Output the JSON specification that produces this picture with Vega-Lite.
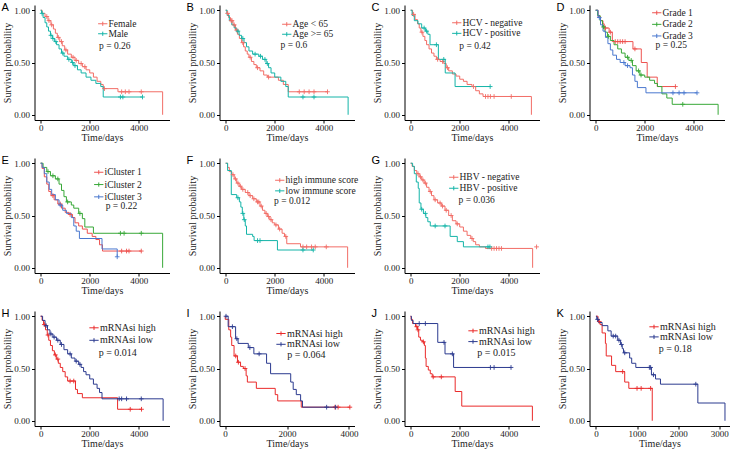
{
"$schema": "https://vega.github.io/schema/vega-lite/v6.json",
"background": "white",
"padding": {"left": 1.5, "top": 1.0, "right": 0, "bottom": 0},
"bounds": "flush",
"columns": 4,
"spacing": {"row": 38, "column": 50},
"resolve": {"scale": {"x": "independent", "y": "independent", "color": "independent"}, "legend": {"color": "independent"}},
"config": {
  "view": {"stroke": null},
  "axis": {"grid": false, "domainColor": "#000", "domainWidth": 1, "tickColor": "#000", "tickSize": 3, "tickWidth": 1, "labelFont": "Liberation Serif", "labelFontSize": 9, "labelColor": "#222", "labelPadding": 1, "titleFont": "Liberation Serif", "titleFontSize": 10, "titleFontWeight": "normal", "titleColor": "#222", "titlePadding": 1, "labelFlush": false},
  "axisX": {"labelPadding": 0, "titlePadding": 0.5},
  "axisY": {"labelPadding": 2},
  "title": {"anchor": "start", "frame": "group", "font": "Liberation Sans", "fontSize": 11, "fontWeight": "normal", "color": "#000", "dx": -33, "dy": 3.5, "offset": -4, "baseline": "alphabetic"},
  "legend": {"padding": 0, "symbolType": "M-1.55,0H1.55M0,-0.7V0.7", "symbolSize": 36, "symbolStrokeWidth": 1, "labelFont": "Liberation Serif", "labelFontSize": 9.5, "labelColor": "#222", "labelOffset": 1, "rowPadding": 0}
},
"datasets": {
"A": [
{"g":"Female","t":0,"s":1},{"g":"Female","t":60,"s":0.97},{"g":"Female","t":180,"s":0.94},{"g":"Female","t":250,"s":0.94,"c":1},{"g":"Female","t":300,"s":0.9},{"g":"Female","t":340,"s":0.9,"c":1},{"g":"Female","t":420,"s":0.86},{"g":"Female","t":450,"s":0.86,"c":1},{"g":"Female","t":520,"s":0.82},{"g":"Female","t":600,"s":0.78},{"g":"Female","t":680,"s":0.74},{"g":"Female","t":720,"s":0.74,"c":1},{"g":"Female","t":780,"s":0.7},{"g":"Female","t":850,"s":0.7,"c":1},{"g":"Female","t":880,"s":0.66},{"g":"Female","t":980,"s":0.62},{"g":"Female","t":1030,"s":0.62,"c":1},{"g":"Female","t":1100,"s":0.58},{"g":"Female","t":1250,"s":0.55},{"g":"Female","t":1320,"s":0.55,"c":1},{"g":"Female","t":1400,"s":0.52},{"g":"Female","t":1450,"s":0.52,"c":1},{"g":"Female","t":1550,"s":0.49},{"g":"Female","t":1650,"s":0.49,"c":1},{"g":"Female","t":1700,"s":0.46},{"g":"Female","t":1800,"s":0.46,"c":1},{"g":"Female","t":1850,"s":0.43},{"g":"Female","t":2000,"s":0.4},{"g":"Female","t":2150,"s":0.36},{"g":"Female","t":2300,"s":0.32},{"g":"Female","t":2450,"s":0.29},{"g":"Female","t":2550,"s":0.25},{"g":"Female","t":2600,"s":0.25,"c":1},{"g":"Female","t":3150,"s":0.22},{"g":"Female","t":3300,"s":0.22,"c":1},{"g":"Female","t":3450,"s":0.22,"c":1},{"g":"Female","t":3600,"s":0.22,"c":1},{"g":"Female","t":4100,"s":0.22,"c":1},{"g":"Female","t":4970,"s":0},
{"g":"Male","t":0,"s":1},{"g":"Male","t":40,"s":0.97},{"g":"Male","t":60,"s":0.97,"c":1},{"g":"Male","t":100,"s":0.93},{"g":"Male","t":180,"s":0.88},{"g":"Male","t":250,"s":0.84},{"g":"Male","t":320,"s":0.8},{"g":"Male","t":400,"s":0.76},{"g":"Male","t":420,"s":0.76,"c":1},{"g":"Male","t":480,"s":0.73},{"g":"Male","t":500,"s":0.73,"c":1},{"g":"Male","t":560,"s":0.7},{"g":"Male","t":620,"s":0.7,"c":1},{"g":"Male","t":650,"s":0.67},{"g":"Male","t":750,"s":0.63},{"g":"Male","t":850,"s":0.59},{"g":"Male","t":900,"s":0.59,"c":1},{"g":"Male","t":950,"s":0.56},{"g":"Male","t":1100,"s":0.53},{"g":"Male","t":1150,"s":0.53,"c":1},{"g":"Male","t":1250,"s":0.5},{"g":"Male","t":1300,"s":0.5,"c":1},{"g":"Male","t":1350,"s":0.47},{"g":"Male","t":1400,"s":0.47,"c":1},{"g":"Male","t":1500,"s":0.43},{"g":"Male","t":1650,"s":0.4},{"g":"Male","t":1850,"s":0.36},{"g":"Male","t":2050,"s":0.33},{"g":"Male","t":2250,"s":0.3},{"g":"Male","t":2450,"s":0.27},{"g":"Male","t":2550,"s":0.17},{"g":"Male","t":3250,"s":0.17,"c":1},{"g":"Male","t":3350,"s":0.17,"c":1},{"g":"Male","t":4150,"s":0.17,"c":1}
],
"B": [
{"g":"Age < 65","t":0,"s":1},{"g":"Age < 65","t":50,"s":0.97},{"g":"Age < 65","t":80,"s":0.97,"c":1},{"g":"Age < 65","t":120,"s":0.93},{"g":"Age < 65","t":200,"s":0.9},{"g":"Age < 65","t":230,"s":0.9,"c":1},{"g":"Age < 65","t":260,"s":0.9,"c":1},{"g":"Age < 65","t":300,"s":0.86},{"g":"Age < 65","t":350,"s":0.86,"c":1},{"g":"Age < 65","t":400,"s":0.81},{"g":"Age < 65","t":450,"s":0.81,"c":1},{"g":"Age < 65","t":480,"s":0.77},{"g":"Age < 65","t":560,"s":0.73},{"g":"Age < 65","t":650,"s":0.69},{"g":"Age < 65","t":700,"s":0.69,"c":1},{"g":"Age < 65","t":730,"s":0.65},{"g":"Age < 65","t":800,"s":0.61},{"g":"Age < 65","t":880,"s":0.58},{"g":"Age < 65","t":950,"s":0.55},{"g":"Age < 65","t":1000,"s":0.55,"c":1},{"g":"Age < 65","t":1050,"s":0.51},{"g":"Age < 65","t":1150,"s":0.48},{"g":"Age < 65","t":1250,"s":0.45},{"g":"Age < 65","t":1300,"s":0.45,"c":1},{"g":"Age < 65","t":1400,"s":0.42},{"g":"Age < 65","t":1550,"s":0.38},{"g":"Age < 65","t":1700,"s":0.36},{"g":"Age < 65","t":1750,"s":0.36,"c":1},{"g":"Age < 65","t":2150,"s":0.33},{"g":"Age < 65","t":2350,"s":0.29},{"g":"Age < 65","t":2550,"s":0.22},{"g":"Age < 65","t":3000,"s":0.22,"c":1},{"g":"Age < 65","t":3200,"s":0.22,"c":1},{"g":"Age < 65","t":3400,"s":0.22,"c":1},{"g":"Age < 65","t":3600,"s":0.22,"c":1},{"g":"Age < 65","t":4150,"s":0.22,"c":1},
{"g":"Age >= 65","t":0,"s":1},{"g":"Age >= 65","t":60,"s":0.95},{"g":"Age >= 65","t":150,"s":0.9},{"g":"Age >= 65","t":250,"s":0.86},{"g":"Age >= 65","t":350,"s":0.83},{"g":"Age >= 65","t":450,"s":0.8},{"g":"Age >= 65","t":500,"s":0.8,"c":1},{"g":"Age >= 65","t":550,"s":0.76},{"g":"Age >= 65","t":650,"s":0.73},{"g":"Age >= 65","t":700,"s":0.73,"c":1},{"g":"Age >= 65","t":750,"s":0.69},{"g":"Age >= 65","t":850,"s":0.65},{"g":"Age >= 65","t":950,"s":0.61},{"g":"Age >= 65","t":1100,"s":0.58},{"g":"Age >= 65","t":1200,"s":0.58,"c":1},{"g":"Age >= 65","t":1350,"s":0.56},{"g":"Age >= 65","t":1420,"s":0.56,"c":1},{"g":"Age >= 65","t":1500,"s":0.53},{"g":"Age >= 65","t":1600,"s":0.53,"c":1},{"g":"Age >= 65","t":1650,"s":0.49},{"g":"Age >= 65","t":1700,"s":0.49,"c":1},{"g":"Age >= 65","t":1750,"s":0.45},{"g":"Age >= 65","t":1850,"s":0.4},{"g":"Age >= 65","t":2000,"s":0.36},{"g":"Age >= 65","t":2250,"s":0.32},{"g":"Age >= 65","t":2450,"s":0.27},{"g":"Age >= 65","t":2550,"s":0.17},{"g":"Age >= 65","t":3150,"s":0.17,"c":1},{"g":"Age >= 65","t":3600,"s":0.17,"c":1},{"g":"Age >= 65","t":4990,"s":0}
],
"C": [
{"g":"HCV - negative","t":0,"s":1},{"g":"HCV - negative","t":80,"s":0.96},{"g":"HCV - negative","t":120,"s":0.96,"c":1},{"g":"HCV - negative","t":180,"s":0.91},{"g":"HCV - negative","t":280,"s":0.87},{"g":"HCV - negative","t":350,"s":0.83},{"g":"HCV - negative","t":420,"s":0.79},{"g":"HCV - negative","t":460,"s":0.79,"c":1},{"g":"HCV - negative","t":500,"s":0.75},{"g":"HCV - negative","t":580,"s":0.71},{"g":"HCV - negative","t":650,"s":0.67},{"g":"HCV - negative","t":750,"s":0.63},{"g":"HCV - negative","t":850,"s":0.59},{"g":"HCV - negative","t":950,"s":0.56},{"g":"HCV - negative","t":1050,"s":0.53},{"g":"HCV - negative","t":1100,"s":0.53,"c":1},{"g":"HCV - negative","t":1200,"s":0.51},{"g":"HCV - negative","t":1300,"s":0.51,"c":1},{"g":"HCV - negative","t":1350,"s":0.49},{"g":"HCV - negative","t":1450,"s":0.45},{"g":"HCV - negative","t":1500,"s":0.45,"c":1},{"g":"HCV - negative","t":1550,"s":0.42},{"g":"HCV - negative","t":1700,"s":0.39},{"g":"HCV - negative","t":1850,"s":0.37},{"g":"HCV - negative","t":2000,"s":0.34},{"g":"HCV - negative","t":2150,"s":0.32},{"g":"HCV - negative","t":2300,"s":0.29},{"g":"HCV - negative","t":2500,"s":0.27},{"g":"HCV - negative","t":2560,"s":0.27,"c":1},{"g":"HCV - negative","t":2650,"s":0.23},{"g":"HCV - negative","t":2800,"s":0.2},{"g":"HCV - negative","t":2950,"s":0.175},{"g":"HCV - negative","t":3050,"s":0.175,"c":1},{"g":"HCV - negative","t":3150,"s":0.175,"c":1},{"g":"HCV - negative","t":3250,"s":0.175,"c":1},{"g":"HCV - negative","t":3400,"s":0.175,"c":1},{"g":"HCV - negative","t":4100,"s":0.175,"c":1},{"g":"HCV - negative","t":4920,"s":0},
{"g":"HCV - positive","t":0,"s":1},{"g":"HCV - positive","t":60,"s":0.95},{"g":"HCV - positive","t":150,"s":0.9},{"g":"HCV - positive","t":300,"s":0.87},{"g":"HCV - positive","t":450,"s":0.83},{"g":"HCV - positive","t":550,"s":0.83,"c":1},{"g":"HCV - positive","t":600,"s":0.8},{"g":"HCV - positive","t":650,"s":0.8,"c":1},{"g":"HCV - positive","t":700,"s":0.77},{"g":"HCV - positive","t":790,"s":0.67},{"g":"HCV - positive","t":1050,"s":0.67,"c":1},{"g":"HCV - positive","t":1130,"s":0.53},{"g":"HCV - positive","t":1350,"s":0.53,"c":1},{"g":"HCV - positive","t":1410,"s":0.4},{"g":"HCV - positive","t":1810,"s":0.27},{"g":"HCV - positive","t":3240,"s":0.27,"c":1}
],
"D": [
{"g":"Grade 1","t":0,"s":1},{"g":"Grade 1","t":100,"s":0.94},{"g":"Grade 1","t":200,"s":0.9},{"g":"Grade 1","t":300,"s":0.87},{"g":"Grade 1","t":350,"s":0.83},{"g":"Grade 1","t":400,"s":0.83,"c":1},{"g":"Grade 1","t":550,"s":0.79},{"g":"Grade 1","t":600,"s":0.79,"c":1},{"g":"Grade 1","t":680,"s":0.7},{"g":"Grade 1","t":800,"s":0.7,"c":1},{"g":"Grade 1","t":900,"s":0.7,"c":1},{"g":"Grade 1","t":1000,"s":0.7,"c":1},{"g":"Grade 1","t":1100,"s":0.7,"c":1},{"g":"Grade 1","t":1200,"s":0.7,"c":1},{"g":"Grade 1","t":1520,"s":0.63},{"g":"Grade 1","t":1600,"s":0.63,"c":1},{"g":"Grade 1","t":1860,"s":0.5},{"g":"Grade 1","t":2100,"s":0.36},{"g":"Grade 1","t":2510,"s":0.27},{"g":"Grade 1","t":3250,"s":0.27,"c":1},
{"g":"Grade 2","t":0,"s":1},{"g":"Grade 2","t":80,"s":0.95},{"g":"Grade 2","t":180,"s":0.9},{"g":"Grade 2","t":280,"s":0.84},{"g":"Grade 2","t":320,"s":0.84,"c":1},{"g":"Grade 2","t":380,"s":0.79},{"g":"Grade 2","t":480,"s":0.75},{"g":"Grade 2","t":520,"s":0.75,"c":1},{"g":"Grade 2","t":600,"s":0.71},{"g":"Grade 2","t":750,"s":0.67},{"g":"Grade 2","t":900,"s":0.63},{"g":"Grade 2","t":1050,"s":0.59},{"g":"Grade 2","t":1200,"s":0.55},{"g":"Grade 2","t":1300,"s":0.55,"c":1},{"g":"Grade 2","t":1350,"s":0.52},{"g":"Grade 2","t":1450,"s":0.52,"c":1},{"g":"Grade 2","t":1500,"s":0.47},{"g":"Grade 2","t":1650,"s":0.42},{"g":"Grade 2","t":1750,"s":0.42,"c":1},{"g":"Grade 2","t":1800,"s":0.38},{"g":"Grade 2","t":1850,"s":0.38,"c":1},{"g":"Grade 2","t":2000,"s":0.36},{"g":"Grade 2","t":2200,"s":0.33},{"g":"Grade 2","t":2400,"s":0.3},{"g":"Grade 2","t":2520,"s":0.27},{"g":"Grade 2","t":2700,"s":0.2},{"g":"Grade 2","t":2900,"s":0.16},{"g":"Grade 2","t":3120,"s":0.1},{"g":"Grade 2","t":3550,"s":0.1,"c":1},{"g":"Grade 2","t":4990,"s":0},
{"g":"Grade 3","t":0,"s":1},{"g":"Grade 3","t":100,"s":0.93},{"g":"Grade 3","t":150,"s":0.93,"c":1},{"g":"Grade 3","t":200,"s":0.86},{"g":"Grade 3","t":300,"s":0.8},{"g":"Grade 3","t":400,"s":0.74},{"g":"Grade 3","t":500,"s":0.68},{"g":"Grade 3","t":600,"s":0.62},{"g":"Grade 3","t":700,"s":0.57},{"g":"Grade 3","t":850,"s":0.53},{"g":"Grade 3","t":1000,"s":0.5},{"g":"Grade 3","t":1150,"s":0.5,"c":1},{"g":"Grade 3","t":1200,"s":0.47},{"g":"Grade 3","t":1300,"s":0.47,"c":1},{"g":"Grade 3","t":1400,"s":0.45},{"g":"Grade 3","t":1500,"s":0.38},{"g":"Grade 3","t":1600,"s":0.32},{"g":"Grade 3","t":1700,"s":0.26},{"g":"Grade 3","t":2050,"s":0.21},{"g":"Grade 3","t":3150,"s":0.21,"c":1},{"g":"Grade 3","t":3400,"s":0.21,"c":1},{"g":"Grade 3","t":3600,"s":0.21,"c":1},{"g":"Grade 3","t":4130,"s":0.21,"c":1}
],
"E": [
{"g":"iCluster 1","t":0,"s":1},{"g":"iCluster 1","t":60,"s":0.95},{"g":"iCluster 1","t":150,"s":0.87},{"g":"iCluster 1","t":250,"s":0.8},{"g":"iCluster 1","t":330,"s":0.73},{"g":"iCluster 1","t":420,"s":0.69},{"g":"iCluster 1","t":500,"s":0.69,"c":1},{"g":"iCluster 1","t":550,"s":0.65},{"g":"iCluster 1","t":700,"s":0.61},{"g":"iCluster 1","t":800,"s":0.61,"c":1},{"g":"iCluster 1","t":850,"s":0.57},{"g":"iCluster 1","t":1000,"s":0.53},{"g":"iCluster 1","t":1150,"s":0.51},{"g":"iCluster 1","t":1200,"s":0.51,"c":1},{"g":"iCluster 1","t":1300,"s":0.48},{"g":"iCluster 1","t":1400,"s":0.43},{"g":"iCluster 1","t":1550,"s":0.4},{"g":"iCluster 1","t":1700,"s":0.37},{"g":"iCluster 1","t":1900,"s":0.33},{"g":"iCluster 1","t":2100,"s":0.3},{"g":"iCluster 1","t":2250,"s":0.27},{"g":"iCluster 1","t":2400,"s":0.22},{"g":"iCluster 1","t":2520,"s":0.16},{"g":"iCluster 1","t":3300,"s":0.16,"c":1},{"g":"iCluster 1","t":3500,"s":0.16,"c":1},{"g":"iCluster 1","t":3600,"s":0.16,"c":1},{"g":"iCluster 1","t":4100,"s":0.16,"c":1},
{"g":"iCluster 2","t":0,"s":1},{"g":"iCluster 2","t":100,"s":0.96},{"g":"iCluster 2","t":250,"s":0.92},{"g":"iCluster 2","t":300,"s":0.92,"c":1},{"g":"iCluster 2","t":400,"s":0.88},{"g":"iCluster 2","t":500,"s":0.88,"c":1},{"g":"iCluster 2","t":600,"s":0.85},{"g":"iCluster 2","t":700,"s":0.85,"c":1},{"g":"iCluster 2","t":750,"s":0.8},{"g":"iCluster 2","t":850,"s":0.74},{"g":"iCluster 2","t":950,"s":0.68},{"g":"iCluster 2","t":1050,"s":0.63},{"g":"iCluster 2","t":1100,"s":0.63,"c":1},{"g":"iCluster 2","t":1250,"s":0.6},{"g":"iCluster 2","t":1350,"s":0.57},{"g":"iCluster 2","t":1550,"s":0.52},{"g":"iCluster 2","t":1600,"s":0.52,"c":1},{"g":"iCluster 2","t":1700,"s":0.47},{"g":"iCluster 2","t":1800,"s":0.39},{"g":"iCluster 2","t":2150,"s":0.33},{"g":"iCluster 2","t":3250,"s":0.33,"c":1},{"g":"iCluster 2","t":3400,"s":0.33,"c":1},{"g":"iCluster 2","t":4100,"s":0.33,"c":1},{"g":"iCluster 2","t":4970,"s":0},
{"g":"iCluster 3","t":0,"s":1},{"g":"iCluster 3","t":60,"s":0.96},{"g":"iCluster 3","t":150,"s":0.9},{"g":"iCluster 3","t":250,"s":0.82},{"g":"iCluster 3","t":350,"s":0.75},{"g":"iCluster 3","t":450,"s":0.7},{"g":"iCluster 3","t":600,"s":0.65},{"g":"iCluster 3","t":750,"s":0.6},{"g":"iCluster 3","t":800,"s":0.6,"c":1},{"g":"iCluster 3","t":900,"s":0.55},{"g":"iCluster 3","t":1050,"s":0.52},{"g":"iCluster 3","t":1250,"s":0.48},{"g":"iCluster 3","t":1350,"s":0.4},{"g":"iCluster 3","t":1450,"s":0.35},{"g":"iCluster 3","t":1580,"s":0.28},{"g":"iCluster 3","t":2500,"s":0.18},{"g":"iCluster 3","t":3120,"s":0.105,"c":1}
],
"F": [
{"g":"high immune score","t":0,"s":1},{"g":"high immune score","t":80,"s":0.96},{"g":"high immune score","t":150,"s":0.92},{"g":"high immune score","t":250,"s":0.89},{"g":"high immune score","t":300,"s":0.89,"c":1},{"g":"high immune score","t":350,"s":0.85},{"g":"high immune score","t":400,"s":0.85,"c":1},{"g":"high immune score","t":450,"s":0.81},{"g":"high immune score","t":500,"s":0.81,"c":1},{"g":"high immune score","t":550,"s":0.78},{"g":"high immune score","t":600,"s":0.78,"c":1},{"g":"high immune score","t":650,"s":0.75},{"g":"high immune score","t":700,"s":0.75,"c":1},{"g":"high immune score","t":800,"s":0.72},{"g":"high immune score","t":900,"s":0.72,"c":1},{"g":"high immune score","t":950,"s":0.69},{"g":"high immune score","t":1000,"s":0.69,"c":1},{"g":"high immune score","t":1100,"s":0.66},{"g":"high immune score","t":1150,"s":0.66,"c":1},{"g":"high immune score","t":1250,"s":0.63},{"g":"high immune score","t":1300,"s":0.63,"c":1},{"g":"high immune score","t":1350,"s":0.63,"c":1},{"g":"high immune score","t":1400,"s":0.59},{"g":"high immune score","t":1450,"s":0.59,"c":1},{"g":"high immune score","t":1500,"s":0.55},{"g":"high immune score","t":1600,"s":0.52},{"g":"high immune score","t":1650,"s":0.52,"c":1},{"g":"high immune score","t":1700,"s":0.49},{"g":"high immune score","t":1750,"s":0.49,"c":1},{"g":"high immune score","t":1800,"s":0.46},{"g":"high immune score","t":1850,"s":0.46,"c":1},{"g":"high immune score","t":1900,"s":0.43},{"g":"high immune score","t":2000,"s":0.41},{"g":"high immune score","t":2050,"s":0.41,"c":1},{"g":"high immune score","t":2150,"s":0.37},{"g":"high immune score","t":2200,"s":0.37,"c":1},{"g":"high immune score","t":2300,"s":0.33},{"g":"high immune score","t":2400,"s":0.3},{"g":"high immune score","t":2450,"s":0.3,"c":1},{"g":"high immune score","t":2490,"s":0.23},{"g":"high immune score","t":3050,"s":0.2},{"g":"high immune score","t":3150,"s":0.2,"c":1},{"g":"high immune score","t":3300,"s":0.2,"c":1},{"g":"high immune score","t":3500,"s":0.2,"c":1},{"g":"high immune score","t":3650,"s":0.2,"c":1},{"g":"high immune score","t":4100,"s":0.2,"c":1},{"g":"high immune score","t":4970,"s":0},
{"g":"low immune score","t":0,"s":1},{"g":"low immune score","t":80,"s":0.93},{"g":"low immune score","t":230,"s":0.7},{"g":"low immune score","t":450,"s":0.67},{"g":"low immune score","t":500,"s":0.67,"c":1},{"g":"low immune score","t":560,"s":0.63},{"g":"low immune score","t":620,"s":0.58},{"g":"low immune score","t":680,"s":0.52},{"g":"low immune score","t":700,"s":0.52,"c":1},{"g":"low immune score","t":740,"s":0.46},{"g":"low immune score","t":760,"s":0.46,"c":1},{"g":"low immune score","t":800,"s":0.4},{"g":"low immune score","t":850,"s":0.32},{"g":"low immune score","t":1100,"s":0.3},{"g":"low immune score","t":1160,"s":0.26},{"g":"low immune score","t":1300,"s":0.26,"c":1},{"g":"low immune score","t":1400,"s":0.26,"c":1},{"g":"low immune score","t":2110,"s":0.17},{"g":"low immune score","t":3150,"s":0.17,"c":1},{"g":"low immune score","t":3570,"s":0.17,"c":1}
],
"G": [
{"g":"HBV - negative","t":0,"s":1},{"g":"HBV - negative","t":60,"s":0.97},{"g":"HBV - negative","t":150,"s":0.93},{"g":"HBV - negative","t":250,"s":0.9},{"g":"HBV - negative","t":300,"s":0.9,"c":1},{"g":"HBV - negative","t":350,"s":0.87},{"g":"HBV - negative","t":400,"s":0.87,"c":1},{"g":"HBV - negative","t":450,"s":0.84},{"g":"HBV - negative","t":500,"s":0.84,"c":1},{"g":"HBV - negative","t":550,"s":0.81},{"g":"HBV - negative","t":600,"s":0.81,"c":1},{"g":"HBV - negative","t":650,"s":0.77},{"g":"HBV - negative","t":750,"s":0.73},{"g":"HBV - negative","t":800,"s":0.73,"c":1},{"g":"HBV - negative","t":850,"s":0.69},{"g":"HBV - negative","t":950,"s":0.65},{"g":"HBV - negative","t":1000,"s":0.65,"c":1},{"g":"HBV - negative","t":1100,"s":0.62},{"g":"HBV - negative","t":1200,"s":0.62,"c":1},{"g":"HBV - negative","t":1250,"s":0.59},{"g":"HBV - negative","t":1300,"s":0.59,"c":1},{"g":"HBV - negative","t":1400,"s":0.55},{"g":"HBV - negative","t":1450,"s":0.55,"c":1},{"g":"HBV - negative","t":1550,"s":0.5},{"g":"HBV - negative","t":1650,"s":0.5,"c":1},{"g":"HBV - negative","t":1700,"s":0.45},{"g":"HBV - negative","t":1850,"s":0.42},{"g":"HBV - negative","t":1900,"s":0.42,"c":1},{"g":"HBV - negative","t":2000,"s":0.39},{"g":"HBV - negative","t":2150,"s":0.35},{"g":"HBV - negative","t":2300,"s":0.31},{"g":"HBV - negative","t":2450,"s":0.28},{"g":"HBV - negative","t":2500,"s":0.28,"c":1},{"g":"HBV - negative","t":2550,"s":0.25},{"g":"HBV - negative","t":2650,"s":0.22},{"g":"HBV - negative","t":2800,"s":0.2},{"g":"HBV - negative","t":3050,"s":0.185},{"g":"HBV - negative","t":3300,"s":0.185,"c":1},{"g":"HBV - negative","t":3400,"s":0.185,"c":1},{"g":"HBV - negative","t":3500,"s":0.185,"c":1},{"g":"HBV - negative","t":3600,"s":0.185,"c":1},{"g":"HBV - negative","t":3700,"s":0.185,"c":1},{"g":"HBV - negative","t":4970,"s":0},{"g":"HBV - negative","t":5130,"s":0.2,"c":2},
{"g":"HBV - positive","t":0,"s":1},{"g":"HBV - positive","t":80,"s":0.97},{"g":"HBV - positive","t":150,"s":0.9},{"g":"HBV - positive","t":230,"s":0.82},{"g":"HBV - positive","t":310,"s":0.76},{"g":"HBV - positive","t":350,"s":0.62},{"g":"HBV - positive","t":420,"s":0.56},{"g":"HBV - positive","t":450,"s":0.56,"c":1},{"g":"HBV - positive","t":520,"s":0.52},{"g":"HBV - positive","t":600,"s":0.52,"c":1},{"g":"HBV - positive","t":620,"s":0.48},{"g":"HBV - positive","t":700,"s":0.44},{"g":"HBV - positive","t":800,"s":0.4},{"g":"HBV - positive","t":1000,"s":0.4,"c":1},{"g":"HBV - positive","t":1400,"s":0.4,"c":1},{"g":"HBV - positive","t":1610,"s":0.3},{"g":"HBV - positive","t":1900,"s":0.25},{"g":"HBV - positive","t":2150,"s":0.2},{"g":"HBV - positive","t":3150,"s":0.2,"c":1},{"g":"HBV - positive","t":3230,"s":0.2,"c":1}
],
"H": [
{"g":"mRNAsi high","t":0,"s":1},{"g":"mRNAsi high","t":60,"s":0.96},{"g":"mRNAsi high","t":120,"s":0.92},{"g":"mRNAsi high","t":150,"s":0.92,"c":1},{"g":"mRNAsi high","t":200,"s":0.87},{"g":"mRNAsi high","t":270,"s":0.82},{"g":"mRNAsi high","t":300,"s":0.82,"c":1},{"g":"mRNAsi high","t":330,"s":0.77},{"g":"mRNAsi high","t":400,"s":0.72},{"g":"mRNAsi high","t":480,"s":0.67},{"g":"mRNAsi high","t":560,"s":0.63},{"g":"mRNAsi high","t":600,"s":0.63,"c":1},{"g":"mRNAsi high","t":640,"s":0.59},{"g":"mRNAsi high","t":700,"s":0.59,"c":1},{"g":"mRNAsi high","t":720,"s":0.55},{"g":"mRNAsi high","t":800,"s":0.51},{"g":"mRNAsi high","t":900,"s":0.47},{"g":"mRNAsi high","t":1000,"s":0.42},{"g":"mRNAsi high","t":1100,"s":0.38},{"g":"mRNAsi high","t":1200,"s":0.38,"c":1},{"g":"mRNAsi high","t":1350,"s":0.38,"c":1},{"g":"mRNAsi high","t":1420,"s":0.3},{"g":"mRNAsi high","t":1500,"s":0.26},{"g":"mRNAsi high","t":1700,"s":0.22},{"g":"mRNAsi high","t":3135,"s":0.11},{"g":"mRNAsi high","t":3650,"s":0.11,"c":1},{"g":"mRNAsi high","t":4110,"s":0.11,"c":1},
{"g":"mRNAsi low","t":0,"s":1},{"g":"mRNAsi low","t":80,"s":0.96},{"g":"mRNAsi low","t":180,"s":0.91},{"g":"mRNAsi low","t":220,"s":0.91,"c":1},{"g":"mRNAsi low","t":280,"s":0.87},{"g":"mRNAsi low","t":380,"s":0.83},{"g":"mRNAsi low","t":420,"s":0.83,"c":1},{"g":"mRNAsi low","t":500,"s":0.8},{"g":"mRNAsi low","t":550,"s":0.8,"c":1},{"g":"mRNAsi low","t":650,"s":0.77},{"g":"mRNAsi low","t":700,"s":0.77,"c":1},{"g":"mRNAsi low","t":800,"s":0.73},{"g":"mRNAsi low","t":850,"s":0.73,"c":1},{"g":"mRNAsi low","t":950,"s":0.68},{"g":"mRNAsi low","t":1100,"s":0.64},{"g":"mRNAsi low","t":1200,"s":0.64,"c":1},{"g":"mRNAsi low","t":1250,"s":0.6},{"g":"mRNAsi low","t":1400,"s":0.57},{"g":"mRNAsi low","t":1450,"s":0.57,"c":1},{"g":"mRNAsi low","t":1550,"s":0.54},{"g":"mRNAsi low","t":1600,"s":0.54,"c":1},{"g":"mRNAsi low","t":1650,"s":0.51},{"g":"mRNAsi low","t":1750,"s":0.47},{"g":"mRNAsi low","t":1850,"s":0.44},{"g":"mRNAsi low","t":2000,"s":0.4},{"g":"mRNAsi low","t":2150,"s":0.35},{"g":"mRNAsi low","t":2300,"s":0.31},{"g":"mRNAsi low","t":2400,"s":0.27},{"g":"mRNAsi low","t":2500,"s":0.21},{"g":"mRNAsi low","t":3200,"s":0.21,"c":1},{"g":"mRNAsi low","t":3300,"s":0.21,"c":1},{"g":"mRNAsi low","t":3500,"s":0.21,"c":1},{"g":"mRNAsi low","t":4100,"s":0.21,"c":1},{"g":"mRNAsi low","t":4990,"s":0}
],
"I": [
{"g":"mRNAsi high","t":0,"s":1},{"g":"mRNAsi high","t":5,"s":0.97},{"g":"mRNAsi high","t":120,"s":0.87},{"g":"mRNAsi high","t":180,"s":0.8},{"g":"mRNAsi high","t":215,"s":0.72},{"g":"mRNAsi high","t":290,"s":0.62},{"g":"mRNAsi high","t":344,"s":0.62,"c":1},{"g":"mRNAsi high","t":400,"s":0.56},{"g":"mRNAsi high","t":430,"s":0.56,"c":1},{"g":"mRNAsi high","t":500,"s":0.52},{"g":"mRNAsi high","t":590,"s":0.5},{"g":"mRNAsi high","t":645,"s":0.5,"c":1},{"g":"mRNAsi high","t":680,"s":0.43},{"g":"mRNAsi high","t":720,"s":0.37},{"g":"mRNAsi high","t":1010,"s":0.31},{"g":"mRNAsi high","t":1620,"s":0.25},{"g":"mRNAsi high","t":1700,"s":0.19},{"g":"mRNAsi high","t":2460,"s":0.13},{"g":"mRNAsi high","t":3550,"s":0.13,"c":1},{"g":"mRNAsi high","t":3650,"s":0.13,"c":1},{"g":"mRNAsi high","t":4030,"s":0.13,"c":1},
{"g":"mRNAsi low","t":0,"s":1},{"g":"mRNAsi low","t":30,"s":1,"c":1},{"g":"mRNAsi low","t":100,"s":0.9},{"g":"mRNAsi low","t":237,"s":0.9,"c":1},{"g":"mRNAsi low","t":340,"s":0.785},{"g":"mRNAsi low","t":380,"s":0.785,"c":1},{"g":"mRNAsi low","t":420,"s":0.74},{"g":"mRNAsi low","t":750,"s":0.7},{"g":"mRNAsi low","t":800,"s":0.7,"c":1},{"g":"mRNAsi low","t":930,"s":0.64},{"g":"mRNAsi low","t":1100,"s":0.64,"c":1},{"g":"mRNAsi low","t":1340,"s":0.55},{"g":"mRNAsi low","t":1470,"s":0.45},{"g":"mRNAsi low","t":2120,"s":0.37},{"g":"mRNAsi low","t":2200,"s":0.3},{"g":"mRNAsi low","t":2300,"s":0.25},{"g":"mRNAsi low","t":2440,"s":0.19},{"g":"mRNAsi low","t":2500,"s":0.13},{"g":"mRNAsi low","t":3280,"s":0.13,"c":1},{"g":"mRNAsi low","t":3570,"s":0.13,"c":1}
],
"J": [
{"g":"mRNAsi high","t":0,"s":1},{"g":"mRNAsi high","t":20,"s":0.97},{"g":"mRNAsi high","t":80,"s":0.93},{"g":"mRNAsi high","t":200,"s":0.9},{"g":"mRNAsi high","t":250,"s":0.9,"c":1},{"g":"mRNAsi high","t":280,"s":0.87},{"g":"mRNAsi high","t":300,"s":0.87,"c":1},{"g":"mRNAsi high","t":330,"s":0.8},{"g":"mRNAsi high","t":400,"s":0.77},{"g":"mRNAsi high","t":480,"s":0.755},{"g":"mRNAsi high","t":520,"s":0.755,"c":1},{"g":"mRNAsi high","t":560,"s":0.72},{"g":"mRNAsi high","t":600,"s":0.6},{"g":"mRNAsi high","t":630,"s":0.52},{"g":"mRNAsi high","t":720,"s":0.485},{"g":"mRNAsi high","t":800,"s":0.45},{"g":"mRNAsi high","t":880,"s":0.42},{"g":"mRNAsi high","t":920,"s":0.42,"c":1},{"g":"mRNAsi high","t":1250,"s":0.42,"c":1},{"g":"mRNAsi high","t":1815,"s":0.28},{"g":"mRNAsi high","t":2083,"s":0.14},{"g":"mRNAsi high","t":4960,"s":0},
{"g":"mRNAsi low","t":0,"s":1},{"g":"mRNAsi low","t":30,"s":0.96},{"g":"mRNAsi low","t":100,"s":0.93},{"g":"mRNAsi low","t":350,"s":0.93,"c":1},{"g":"mRNAsi low","t":600,"s":0.93,"c":1},{"g":"mRNAsi low","t":1105,"s":0.75},{"g":"mRNAsi low","t":1360,"s":0.75,"c":1},{"g":"mRNAsi low","t":1400,"s":0.64},{"g":"mRNAsi low","t":1700,"s":0.64,"c":1},{"g":"mRNAsi low","t":1750,"s":0.51},{"g":"mRNAsi low","t":3250,"s":0.51,"c":1},{"g":"mRNAsi low","t":3400,"s":0.51,"c":1},{"g":"mRNAsi low","t":4090,"s":0.51,"c":1}
],
"K": [
{"g":"mRNAsi high","t":0,"s":1},{"g":"mRNAsi high","t":50,"s":0.95},{"g":"mRNAsi high","t":80,"s":0.95,"c":1},{"g":"mRNAsi high","t":100,"s":0.92},{"g":"mRNAsi high","t":150,"s":0.84},{"g":"mRNAsi high","t":230,"s":0.74},{"g":"mRNAsi high","t":250,"s":0.62},{"g":"mRNAsi high","t":380,"s":0.53},{"g":"mRNAsi high","t":480,"s":0.47},{"g":"mRNAsi high","t":650,"s":0.47,"c":1},{"g":"mRNAsi high","t":700,"s":0.37},{"g":"mRNAsi high","t":800,"s":0.31},{"g":"mRNAsi high","t":1000,"s":0.31,"c":1},{"g":"mRNAsi high","t":1100,"s":0.31,"c":1},{"g":"mRNAsi high","t":1330,"s":0.31,"c":1},{"g":"mRNAsi high","t":1370,"s":0},
{"g":"mRNAsi low","t":0,"s":1},{"g":"mRNAsi low","t":20,"s":0.97},{"g":"mRNAsi low","t":40,"s":0.97,"c":1},{"g":"mRNAsi low","t":60,"s":0.94},{"g":"mRNAsi low","t":150,"s":0.91},{"g":"mRNAsi low","t":290,"s":0.86},{"g":"mRNAsi low","t":370,"s":0.81},{"g":"mRNAsi low","t":420,"s":0.81,"c":1},{"g":"mRNAsi low","t":480,"s":0.81,"c":1},{"g":"mRNAsi low","t":530,"s":0.77},{"g":"mRNAsi low","t":560,"s":0.77,"c":1},{"g":"mRNAsi low","t":600,"s":0.73},{"g":"mRNAsi low","t":620,"s":0.73,"c":1},{"g":"mRNAsi low","t":640,"s":0.69},{"g":"mRNAsi low","t":670,"s":0.65},{"g":"mRNAsi low","t":700,"s":0.65,"c":1},{"g":"mRNAsi low","t":820,"s":0.6},{"g":"mRNAsi low","t":870,"s":0.55},{"g":"mRNAsi low","t":970,"s":0.51},{"g":"mRNAsi low","t":1300,"s":0.51,"c":1},{"g":"mRNAsi low","t":1330,"s":0.51,"c":1},{"g":"mRNAsi low","t":1350,"s":0.44},{"g":"mRNAsi low","t":1400,"s":0.44,"c":1},{"g":"mRNAsi low","t":1450,"s":0.4},{"g":"mRNAsi low","t":1570,"s":0.35},{"g":"mRNAsi low","t":2430,"s":0.35,"c":1},{"g":"mRNAsi low","t":2480,"s":0.17},{"g":"mRNAsi low","t":3140,"s":0}
]
},
"concat": [
 {"data": {"name": "A"}, "width": 135, "height": 115, "title": {"text": "A"},
  "layer": [
   {"transform": [{"filter": "datum.c != 2"}], "mark": {"type": "line", "interpolate": "step-after", "strokeWidth": 1},
    "encoding": {"x": {"field": "t", "type": "quantitative", "scale": {"domain": [-250, 5250], "nice": false, "zero": false}, "axis": {"title": "Time/days", "values": [0, 1000, 2000, 3000, 4000, 5000], "format": "d"}},
     "y": {"field": "s", "type": "quantitative", "scale": {"domain": [-0.05, 1.05], "nice": false, "zero": false}, "axis": {"title": "Survival probability", "values": [0, 0.25, 0.5, 0.75, 1], "format": ".2f"}},
     "color": {"field": "g", "type": "nominal", "scale": {"domain": ["Female", "Male"], "range": ["#F26D66", "#14B4A8"]}, "legend": {"title": null, "orient": "none", "legendX": 63.5, "legendY": 14, "rowPadding": -1.1}}}},
   {"transform": [{"filter": "datum.c >= 1"}], "mark": {"type": "point", "shape": "M-1,0H1M0,-1V1", "size": 22, "strokeWidth": 0.9, "filled": false, "opacity": 1},
    "encoding": {"x": {"field": "t", "type": "quantitative"}, "y": {"field": "s", "type": "quantitative"}, "color": {"field": "g", "type": "nominal", "legend": {"title": null, "orient": "none", "legendX": 63.5, "legendY": 14, "rowPadding": -1.1}}}},
   {"data": {"values": [{}]}, "mark": {"type": "text", "align": "left", "baseline": "middle", "font": "Liberation Serif", "fontSize": 9.5, "color": "#222"},
    "encoding": {"x": {"datum": 2380, "type": "quantitative"}, "y": {"datum": 0.66, "type": "quantitative"}, "text": {"value": "p = 0.26"}}}
  ]},
 {"data": {"name": "B"}, "width": 135, "height": 115, "title": {"text": "B"},
  "layer": [
   {"transform": [{"filter": "datum.c != 2"}], "mark": {"type": "line", "interpolate": "step-after", "strokeWidth": 1},
    "encoding": {"x": {"field": "t", "type": "quantitative", "scale": {"domain": [-250, 5250], "nice": false, "zero": false}, "axis": {"title": "Time/days", "values": [0, 1000, 2000, 3000, 4000, 5000], "format": "d"}},
     "y": {"field": "s", "type": "quantitative", "scale": {"domain": [-0.05, 1.05], "nice": false, "zero": false}, "axis": {"title": "Survival probability", "values": [0, 0.25, 0.5, 0.75, 1], "format": ".2f"}},
     "color": {"field": "g", "type": "nominal", "scale": {"domain": ["Age < 65", "Age >= 65"], "range": ["#F26D66", "#14B4A8"]}, "legend": {"title": null, "orient": "none", "legendX": 62.5, "legendY": 14.5, "rowPadding": -1.5}}}},
   {"transform": [{"filter": "datum.c >= 1"}], "mark": {"type": "point", "shape": "M-1,0H1M0,-1V1", "size": 22, "strokeWidth": 0.9, "filled": false, "opacity": 1},
    "encoding": {"x": {"field": "t", "type": "quantitative"}, "y": {"field": "s", "type": "quantitative"}, "color": {"field": "g", "type": "nominal", "legend": {"title": null, "orient": "none", "legendX": 62.5, "legendY": 14.5, "rowPadding": -1.5}}}},
   {"data": {"values": [{}]}, "mark": {"type": "text", "align": "left", "baseline": "middle", "font": "Liberation Serif", "fontSize": 9.5, "color": "#222"},
    "encoding": {"x": {"datum": 2240, "type": "quantitative"}, "y": {"datum": 0.665, "type": "quantitative"}, "text": {"value": "p = 0.6"}}}
  ]},
 {"data": {"name": "C"}, "width": 135, "height": 115, "title": {"text": "C"},
  "layer": [
   {"transform": [{"filter": "datum.c != 2"}], "mark": {"type": "line", "interpolate": "step-after", "strokeWidth": 1},
    "encoding": {"x": {"field": "t", "type": "quantitative", "scale": {"domain": [-250, 5250], "nice": false, "zero": false}, "axis": {"title": "Time/days", "values": [0, 1000, 2000, 3000, 4000, 5000], "format": "d"}},
     "y": {"field": "s", "type": "quantitative", "scale": {"domain": [-0.05, 1.05], "nice": false, "zero": false}, "axis": {"title": "Survival probability", "values": [0, 0.25, 0.5, 0.75, 1], "format": ".2f"}},
     "color": {"field": "g", "type": "nominal", "scale": {"domain": ["HCV - negative", "HCV - positive"], "range": ["#F26D66", "#14B4A8"]}, "legend": {"title": null, "orient": "none", "legendX": 47.5, "legendY": 13, "rowPadding": -0.4}}}},
   {"transform": [{"filter": "datum.c >= 1"}], "mark": {"type": "point", "shape": "M-1,0H1M0,-1V1", "size": 22, "strokeWidth": 0.9, "filled": false, "opacity": 1},
    "encoding": {"x": {"field": "t", "type": "quantitative"}, "y": {"field": "s", "type": "quantitative"}, "color": {"field": "g", "type": "nominal", "legend": {"title": null, "orient": "none", "legendX": 47.5, "legendY": 13, "rowPadding": -0.4}}}},
   {"data": {"values": [{}]}, "mark": {"type": "text", "align": "left", "baseline": "middle", "font": "Liberation Serif", "fontSize": 9.5, "color": "#222"},
    "encoding": {"x": {"datum": 1985, "type": "quantitative"}, "y": {"datum": 0.658, "type": "quantitative"}, "text": {"value": "p = 0.42"}}}
  ]},
 {"data": {"name": "D"}, "width": 135, "height": 115, "title": {"text": "D"},
  "layer": [
   {"transform": [{"filter": "datum.c != 2"}], "mark": {"type": "line", "interpolate": "step-after", "strokeWidth": 1},
    "encoding": {"x": {"field": "t", "type": "quantitative", "scale": {"domain": [-250, 5250], "nice": false, "zero": false}, "axis": {"title": "Time/days", "values": [0, 1000, 2000, 3000, 4000, 5000], "format": "d"}},
     "y": {"field": "s", "type": "quantitative", "scale": {"domain": [-0.05, 1.05], "nice": false, "zero": false}, "axis": {"title": "Survival probability", "values": [0, 0.25, 0.5, 0.75, 1], "format": ".2f"}},
     "color": {"field": "g", "type": "nominal", "scale": {"domain": ["Grade 1", "Grade 2", "Grade 3"], "range": ["#EE5350", "#38A838", "#4A78CF"]}, "legend": {"title": null, "orient": "none", "legendX": 62.5, "legendY": 3, "rowPadding": 0.6}}}},
   {"transform": [{"filter": "datum.c >= 1"}], "mark": {"type": "point", "shape": "M-1,0H1M0,-1V1", "size": 22, "strokeWidth": 0.9, "filled": false, "opacity": 1},
    "encoding": {"x": {"field": "t", "type": "quantitative"}, "y": {"field": "s", "type": "quantitative"}, "color": {"field": "g", "type": "nominal", "legend": {"title": null, "orient": "none", "legendX": 62.5, "legendY": 3, "rowPadding": 0.6}}}},
   {"data": {"values": [{}]}, "mark": {"type": "text", "align": "left", "baseline": "middle", "font": "Liberation Serif", "fontSize": 9.5, "color": "#222"},
    "encoding": {"x": {"datum": 2440, "type": "quantitative"}, "y": {"datum": 0.665, "type": "quantitative"}, "text": {"value": "p = 0.25"}}}
  ]},
 {"data": {"name": "E"}, "width": 135, "height": 115, "title": {"text": "E"},
  "layer": [
   {"transform": [{"filter": "datum.c != 2"}], "mark": {"type": "line", "interpolate": "step-after", "strokeWidth": 1},
    "encoding": {"x": {"field": "t", "type": "quantitative", "scale": {"domain": [-250, 5250], "nice": false, "zero": false}, "axis": {"title": "Time/days", "values": [0, 1000, 2000, 3000, 4000, 5000], "format": "d"}},
     "y": {"field": "s", "type": "quantitative", "scale": {"domain": [-0.05, 1.05], "nice": false, "zero": false}, "axis": {"title": "Survival probability", "values": [0, 0.25, 0.5, 0.75, 1], "format": ".2f"}},
     "color": {"field": "g", "type": "nominal", "scale": {"domain": ["iCluster 1", "iCluster 2", "iCluster 3"], "range": ["#EE5350", "#38A838", "#4A78CF"]}, "legend": {"title": null, "orient": "none", "legendX": 59.5, "legendY": 9.5, "rowPadding": 1.3}}}},
   {"transform": [{"filter": "datum.c >= 1"}], "mark": {"type": "point", "shape": "M-1,0H1M0,-1V1", "size": 22, "strokeWidth": 0.9, "filled": false, "opacity": 1},
    "encoding": {"x": {"field": "t", "type": "quantitative"}, "y": {"field": "s", "type": "quantitative"}, "color": {"field": "g", "type": "nominal", "legend": {"title": null, "orient": "none", "legendX": 59.5, "legendY": 9.5, "rowPadding": 1.3}}}},
   {"data": {"values": [{}]}, "mark": {"type": "text", "align": "left", "baseline": "middle", "font": "Liberation Serif", "fontSize": 9.5, "color": "#222"},
    "encoding": {"x": {"datum": 2650, "type": "quantitative"}, "y": {"datum": 0.587, "type": "quantitative"}, "text": {"value": "p = 0.22"}}}
  ]},
 {"data": {"name": "F"}, "width": 135, "height": 115, "title": {"text": "F"},
  "layer": [
   {"transform": [{"filter": "datum.c != 2"}], "mark": {"type": "line", "interpolate": "step-after", "strokeWidth": 1},
    "encoding": {"x": {"field": "t", "type": "quantitative", "scale": {"domain": [-250, 5250], "nice": false, "zero": false}, "axis": {"title": "Time/days", "values": [0, 1000, 2000, 3000, 4000, 5000], "format": "d"}},
     "y": {"field": "s", "type": "quantitative", "scale": {"domain": [-0.05, 1.05], "nice": false, "zero": false}, "axis": {"title": "Survival probability", "values": [0, 0.25, 0.5, 0.75, 1], "format": ".2f"}},
     "color": {"field": "g", "type": "nominal", "scale": {"domain": ["high immune score", "low immune score"], "range": ["#F26D66", "#14B4A8"]}, "legend": {"title": null, "orient": "none", "legendX": 55.5, "legendY": 17.5, "rowPadding": -0.4}}}},
   {"transform": [{"filter": "datum.c >= 1"}], "mark": {"type": "point", "shape": "M-1,0H1M0,-1V1", "size": 22, "strokeWidth": 0.9, "filled": false, "opacity": 1},
    "encoding": {"x": {"field": "t", "type": "quantitative"}, "y": {"field": "s", "type": "quantitative"}, "color": {"field": "g", "type": "nominal", "legend": {"title": null, "orient": "none", "legendX": 55.5, "legendY": 17.5, "rowPadding": -0.4}}}},
   {"data": {"values": [{}]}, "mark": {"type": "text", "align": "left", "baseline": "middle", "font": "Liberation Serif", "fontSize": 9.5, "color": "#222"},
    "encoding": {"x": {"datum": 1975, "type": "quantitative"}, "y": {"datum": 0.635, "type": "quantitative"}, "text": {"value": "p = 0.012"}}}
  ]},
 {"data": {"name": "G"}, "width": 135, "height": 115, "title": {"text": "G"},
  "layer": [
   {"transform": [{"filter": "datum.c != 2"}], "mark": {"type": "line", "interpolate": "step-after", "strokeWidth": 1},
    "encoding": {"x": {"field": "t", "type": "quantitative", "scale": {"domain": [-250, 5250], "nice": false, "zero": false}, "axis": {"title": "Time/days", "values": [0, 1000, 2000, 3000, 4000, 5000], "format": "d"}},
     "y": {"field": "s", "type": "quantitative", "scale": {"domain": [-0.05, 1.05], "nice": false, "zero": false}, "axis": {"title": "Survival probability", "values": [0, 0.25, 0.5, 0.75, 1], "format": ".2f"}},
     "color": {"field": "g", "type": "nominal", "scale": {"domain": ["HBV - negative", "HBV - positive"], "range": ["#F26D66", "#14B4A8"]}, "legend": {"title": null, "orient": "none", "legendX": 44.5, "legendY": 14.5, "rowPadding": 0}}}},
   {"transform": [{"filter": "datum.c >= 1"}], "mark": {"type": "point", "shape": "M-1,0H1M0,-1V1", "size": 22, "strokeWidth": 0.9, "filled": false, "opacity": 1},
    "encoding": {"x": {"field": "t", "type": "quantitative"}, "y": {"field": "s", "type": "quantitative"}, "color": {"field": "g", "type": "nominal", "legend": {"title": null, "orient": "none", "legendX": 44.5, "legendY": 14.5, "rowPadding": 0}}}},
   {"data": {"values": [{}]}, "mark": {"type": "text", "align": "left", "baseline": "middle", "font": "Liberation Serif", "fontSize": 9.5, "color": "#222"},
    "encoding": {"x": {"datum": 1950, "type": "quantitative"}, "y": {"datum": 0.645, "type": "quantitative"}, "text": {"value": "p = 0.036"}}}
  ]},
 {"data": {"values": [{}]}, "width": 135, "height": 115, "mark": {"type": "point", "opacity": 0}},
 {"data": {"name": "H"}, "width": 135, "height": 115, "title": {"text": "H"},
  "layer": [
   {"transform": [{"filter": "datum.c != 2"}], "mark": {"type": "line", "interpolate": "step-after", "strokeWidth": 1},
    "encoding": {"x": {"field": "t", "type": "quantitative", "scale": {"domain": [-250, 5250], "nice": false, "zero": false}, "axis": {"title": "Time/days", "values": [0, 1000, 2000, 3000, 4000, 5000], "format": "d"}},
     "y": {"field": "s", "type": "quantitative", "scale": {"domain": [-0.05, 1.05], "nice": false, "zero": false}, "axis": {"title": "Survival probability", "values": [0, 0.25, 0.5, 0.75, 1], "format": ".2f"}},
     "color": {"field": "g", "type": "nominal", "scale": {"domain": ["mRNAsi high", "mRNAsi low"], "range": ["#EA2A2A", "#2B3A8F"]}, "legend": {"title": null, "orient": "none", "legendX": 54.5, "legendY": 11.8, "rowPadding": 2.5, "labelFontSize": 10}}}},
   {"transform": [{"filter": "datum.c >= 1"}], "mark": {"type": "point", "shape": "M-1,0H1M0,-1V1", "size": 22, "strokeWidth": 0.9, "filled": false, "opacity": 1},
    "encoding": {"x": {"field": "t", "type": "quantitative"}, "y": {"field": "s", "type": "quantitative"}, "color": {"field": "g", "type": "nominal", "legend": {"title": null, "orient": "none", "legendX": 54.5, "legendY": 11.8, "rowPadding": 2.5, "labelFontSize": 10}}}},
   {"data": {"values": [{}]}, "mark": {"type": "text", "align": "left", "baseline": "middle", "font": "Liberation Serif", "fontSize": 10, "color": "#222"},
    "encoding": {"x": {"datum": 2365, "type": "quantitative"}, "y": {"datum": 0.65, "type": "quantitative"}, "text": {"value": "p = 0.014"}}}
  ]},
 {"data": {"name": "I"}, "width": 135, "height": 115, "title": {"text": "I"},
  "layer": [
   {"transform": [{"filter": "datum.c != 2"}], "mark": {"type": "line", "interpolate": "step-after", "strokeWidth": 1},
    "encoding": {"x": {"field": "t", "type": "quantitative", "scale": {"domain": [-180, 4180], "nice": false, "zero": false}, "axis": {"title": "Time/days", "values": [0, 1000, 2000, 3000, 4000], "format": "d"}},
     "y": {"field": "s", "type": "quantitative", "scale": {"domain": [-0.05, 1.05], "nice": false, "zero": false}, "axis": {"title": "Survival probability", "values": [0, 0.25, 0.5, 0.75, 1], "format": ".2f"}},
     "color": {"field": "g", "type": "nominal", "scale": {"domain": ["mRNAsi high", "mRNAsi low"], "range": ["#EA2A2A", "#2B3A8F"]}, "legend": {"title": null, "orient": "none", "legendX": 56.5, "legendY": 17.5, "rowPadding": 0.8, "labelFontSize": 10}}}},
   {"transform": [{"filter": "datum.c >= 1"}], "mark": {"type": "point", "shape": "M-1,0H1M0,-1V1", "size": 22, "strokeWidth": 0.9, "filled": false, "opacity": 1},
    "encoding": {"x": {"field": "t", "type": "quantitative"}, "y": {"field": "s", "type": "quantitative"}, "color": {"field": "g", "type": "nominal", "legend": {"title": null, "orient": "none", "legendX": 56.5, "legendY": 17.5, "rowPadding": 0.8, "labelFontSize": 10}}}},
   {"data": {"values": [{}]}, "mark": {"type": "text", "align": "left", "baseline": "middle", "font": "Liberation Serif", "fontSize": 10, "color": "#222"},
    "encoding": {"x": {"datum": 2010, "type": "quantitative"}, "y": {"datum": 0.63, "type": "quantitative"}, "text": {"value": "p = 0.064"}}}
  ]},
 {"data": {"name": "J"}, "width": 135, "height": 115, "title": {"text": "J"},
  "layer": [
   {"transform": [{"filter": "datum.c != 2"}], "mark": {"type": "line", "interpolate": "step-after", "strokeWidth": 1},
    "encoding": {"x": {"field": "t", "type": "quantitative", "scale": {"domain": [-250, 5250], "nice": false, "zero": false}, "axis": {"title": "Time/days", "values": [0, 1000, 2000, 3000, 4000, 5000], "format": "d"}},
     "y": {"field": "s", "type": "quantitative", "scale": {"domain": [-0.05, 1.05], "nice": false, "zero": false}, "axis": {"title": "Survival probability", "values": [0, 0.25, 0.5, 0.75, 1], "format": ".2f"}},
     "color": {"field": "g", "type": "nominal", "scale": {"domain": ["mRNAsi high", "mRNAsi low"], "range": ["#EA2A2A", "#2B3A8F"]}, "legend": {"title": null, "orient": "none", "legendX": 63.5, "legendY": 14.8, "rowPadding": 0.8, "labelFontSize": 10}}}},
   {"transform": [{"filter": "datum.c >= 1"}], "mark": {"type": "point", "shape": "M-1,0H1M0,-1V1", "size": 22, "strokeWidth": 0.9, "filled": false, "opacity": 1},
    "encoding": {"x": {"field": "t", "type": "quantitative"}, "y": {"field": "s", "type": "quantitative"}, "color": {"field": "g", "type": "nominal", "legend": {"title": null, "orient": "none", "legendX": 63.5, "legendY": 14.8, "rowPadding": 0.8, "labelFontSize": 10}}}},
   {"data": {"values": [{}]}, "mark": {"type": "text", "align": "left", "baseline": "middle", "font": "Liberation Serif", "fontSize": 10, "color": "#222"},
    "encoding": {"x": {"datum": 2715, "type": "quantitative"}, "y": {"datum": 0.644, "type": "quantitative"}, "text": {"value": "p = 0.015"}}}
  ]},
 {"data": {"name": "K"}, "width": 140, "height": 115, "title": {"text": "K"},
  "layer": [
   {"transform": [{"filter": "datum.c != 2"}], "mark": {"type": "line", "interpolate": "step-after", "strokeWidth": 1},
    "encoding": {"x": {"field": "t", "type": "quantitative", "scale": {"domain": [-157, 3250], "nice": false, "zero": false}, "axis": {"title": "Time/days", "values": [0, 1000, 2000, 3000], "format": "d"}},
     "y": {"field": "s", "type": "quantitative", "scale": {"domain": [-0.05, 1.05], "nice": false, "zero": false}, "axis": {"title": "Survival probability", "values": [0, 0.25, 0.5, 0.75, 1], "format": ".2f"}},
     "color": {"field": "g", "type": "nominal", "scale": {"domain": ["mRNAsi high", "mRNAsi low"], "range": ["#EA2A2A", "#2B3A8F"]}, "legend": {"title": null, "orient": "none", "legendX": 59.5, "legendY": 10.8, "rowPadding": 0.1, "labelFontSize": 10}}}},
   {"transform": [{"filter": "datum.c >= 1"}], "mark": {"type": "point", "shape": "M-1,0H1M0,-1V1", "size": 22, "strokeWidth": 0.9, "filled": false, "opacity": 1},
    "encoding": {"x": {"field": "t", "type": "quantitative"}, "y": {"field": "s", "type": "quantitative"}, "color": {"field": "g", "type": "nominal", "legend": {"title": null, "orient": "none", "legendX": 59.5, "legendY": 10.8, "rowPadding": 0.1, "labelFontSize": 10}}}},
   {"data": {"values": [{}]}, "mark": {"type": "text", "align": "left", "baseline": "middle", "font": "Liberation Serif", "fontSize": 10, "color": "#222"},
    "encoding": {"x": {"datum": 1527, "type": "quantitative"}, "y": {"datum": 0.69, "type": "quantitative"}, "text": {"value": "p = 0.18"}}}
  ]}
]
}
